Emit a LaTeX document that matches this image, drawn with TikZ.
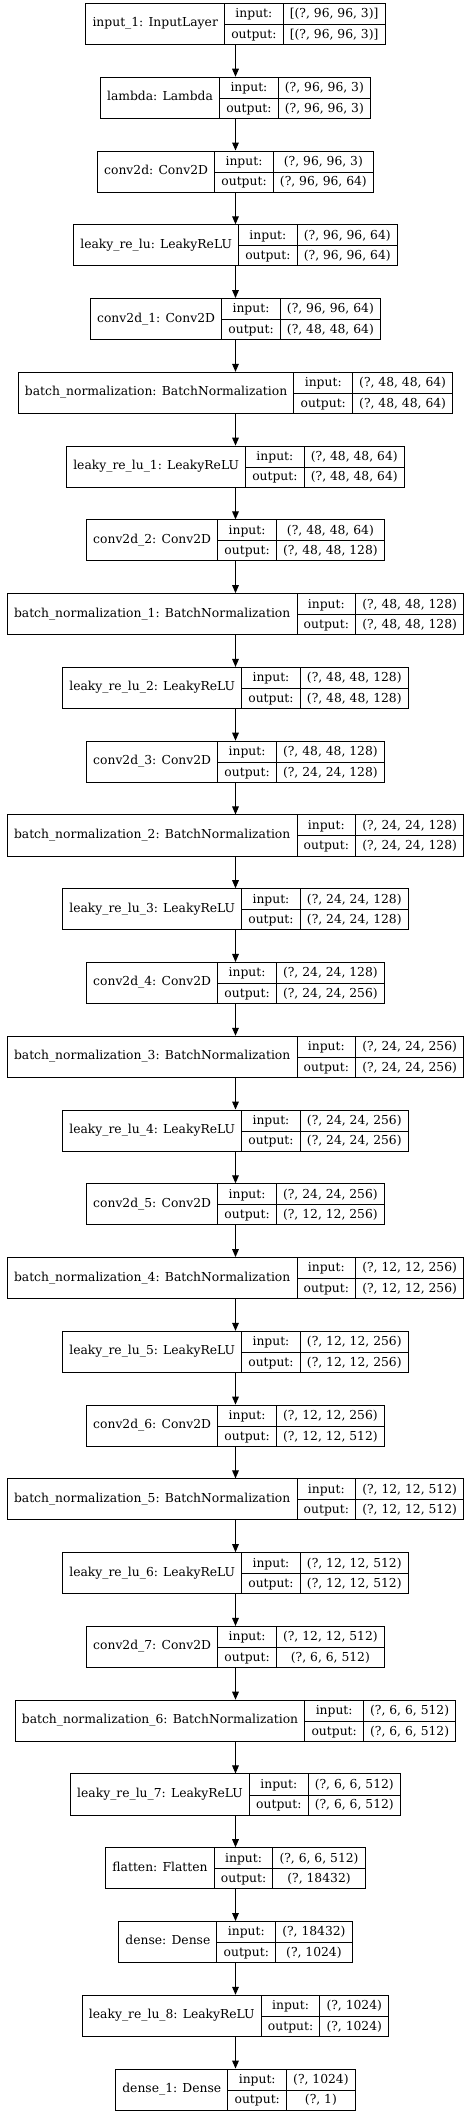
\documentclass[tikz,border=0pt]{standalone}
\usepackage{fontspec}
\setmainfont{DejaVu Serif}
\usepackage{multirow}
\usepackage{tikz}
\usetikzlibrary{arrows.meta}

\setlength{\arrayrulewidth}{0.75pt}
\newcommand{\layertab}[3]{%
  \renewcommand{\arraystretch}{1.4}\setlength{\tabcolsep}{5pt}%
  \begin{tabular}{c|c|c}
    \multirow{2}{*}{#1} & input: & #2 \\ \cline{2-3}
    & output: & #3
  \end{tabular}}

\tikzset{
  layer/.style={draw, line width=0.75pt, inner sep=0pt, fill=white,
                font=\fontsize{9.25}{11}\selectfont},
  link/.style={-{Triangle[length=6pt,width=5pt]}, line width=0.75pt}
}

\begin{document}
\begin{tikzpicture}[x=0.75pt, y=0.75pt]
  \useasboundingbox (0,0) rectangle (471,-2115);
  \foreach \i/\lname/\vin/\vout in {
      0/{input\_1: InputLayer}/{[(?, 96, 96, 3)]}/{[(?, 96, 96, 3)]},
      1/{lambda: Lambda}/{(?, 96, 96, 3)}/{(?, 96, 96, 3)},
      2/{conv2d: Conv2D}/{(?, 96, 96, 3)}/{(?, 96, 96, 64)},
      3/{leaky\_re\_lu: LeakyReLU}/{(?, 96, 96, 64)}/{(?, 96, 96, 64)},
      4/{conv2d\_1: Conv2D}/{(?, 96, 96, 64)}/{(?, 48, 48, 64)},
      5/{batch\_normalization: BatchNormalization}/{(?, 48, 48, 64)}/{(?, 48, 48, 64)},
      6/{leaky\_re\_lu\_1: LeakyReLU}/{(?, 48, 48, 64)}/{(?, 48, 48, 64)},
      7/{conv2d\_2: Conv2D}/{(?, 48, 48, 64)}/{(?, 48, 48, 128)},
      8/{batch\_normalization\_1: BatchNormalization}/{(?, 48, 48, 128)}/{(?, 48, 48, 128)},
      9/{leaky\_re\_lu\_2: LeakyReLU}/{(?, 48, 48, 128)}/{(?, 48, 48, 128)},
      10/{conv2d\_3: Conv2D}/{(?, 48, 48, 128)}/{(?, 24, 24, 128)},
      11/{batch\_normalization\_2: BatchNormalization}/{(?, 24, 24, 128)}/{(?, 24, 24, 128)},
      12/{leaky\_re\_lu\_3: LeakyReLU}/{(?, 24, 24, 128)}/{(?, 24, 24, 128)},
      13/{conv2d\_4: Conv2D}/{(?, 24, 24, 128)}/{(?, 24, 24, 256)},
      14/{batch\_normalization\_3: BatchNormalization}/{(?, 24, 24, 256)}/{(?, 24, 24, 256)},
      15/{leaky\_re\_lu\_4: LeakyReLU}/{(?, 24, 24, 256)}/{(?, 24, 24, 256)},
      16/{conv2d\_5: Conv2D}/{(?, 24, 24, 256)}/{(?, 12, 12, 256)},
      17/{batch\_normalization\_4: BatchNormalization}/{(?, 12, 12, 256)}/{(?, 12, 12, 256)},
      18/{leaky\_re\_lu\_5: LeakyReLU}/{(?, 12, 12, 256)}/{(?, 12, 12, 256)},
      19/{conv2d\_6: Conv2D}/{(?, 12, 12, 256)}/{(?, 12, 12, 512)},
      20/{batch\_normalization\_5: BatchNormalization}/{(?, 12, 12, 512)}/{(?, 12, 12, 512)},
      21/{leaky\_re\_lu\_6: LeakyReLU}/{(?, 12, 12, 512)}/{(?, 12, 12, 512)},
      22/{conv2d\_7: Conv2D}/{(?, 12, 12, 512)}/{(?, 6, 6, 512)},
      23/{batch\_normalization\_6: BatchNormalization}/{(?, 6, 6, 512)}/{(?, 6, 6, 512)},
      24/{leaky\_re\_lu\_7: LeakyReLU}/{(?, 6, 6, 512)}/{(?, 6, 6, 512)},
      25/{flatten: Flatten}/{(?, 6, 6, 512)}/{(?, 18432)},
      26/{dense: Dense}/{(?, 18432)}/{(?, 1024)},
      27/{leaky\_re\_lu\_8: LeakyReLU}/{(?, 1024)}/{(?, 1024)},
      28/{dense\_1: Dense}/{(?, 1024)}/{(?, 1)}}
    \node[layer] (L\i) at (235.5, {-24-73.77*\i}) {\layertab{\lname}{\vin}{\vout}};

  \foreach \i [evaluate=\i as \prev using int(\i-1)] in {1,...,28}
    \draw[link] (L\prev) -- (L\i);
\end{tikzpicture}
\end{document}
